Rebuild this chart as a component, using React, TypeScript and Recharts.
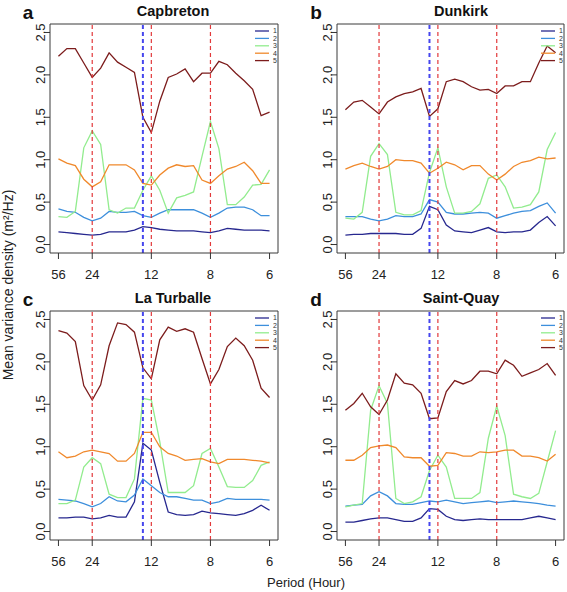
import React from "react";
import { LineChart, Line, XAxis, YAxis, ReferenceLine } from "recharts";

// harmonic index k: period = 168 / k hours
const harmonic = [3, 4, 5, 6, 7, 8, 9, 10, 11, 12, 13, 14, 15, 16, 17, 18, 19, 20, 21, 22, 23, 24, 25, 26, 27, 28];
const periodTicks = [3, 7, 14, 21, 28];
const periodLabels = ["56", "24", "12", "8", "6"];
const tidalLines = [7, 14, 21];
const m2Line = 13;
const yTicks = [0, 0.5, 1, 1.5, 2, 2.5];
const clusterNames = ["1", "2", "3", "4", "5"];
const clusterColors = ["#27288f", "#3d8fdc", "#92ec8e", "#f0892c", "#7c1c1c"];

const capbreton1 = [0.15, 0.14, 0.13, 0.12, 0.11, 0.12, 0.15, 0.15, 0.15, 0.17, 0.21, 0.2, 0.18, 0.17, 0.16, 0.16, 0.16, 0.15, 0.14, 0.16, 0.19, 0.18, 0.17, 0.17, 0.17, 0.16];
const capbreton2 = [0.42, 0.39, 0.38, 0.32, 0.28, 0.31, 0.39, 0.38, 0.38, 0.39, 0.34, 0.32, 0.37, 0.41, 0.41, 0.41, 0.41, 0.37, 0.32, 0.37, 0.43, 0.44, 0.44, 0.41, 0.34, 0.34];
const capbreton3 = [0.33, 0.32, 0.39, 1.14, 1.34, 1.18, 0.41, 0.37, 0.43, 0.43, 0.64, 0.81, 0.64, 0.37, 0.55, 0.58, 0.62, 1.04, 1.45, 1.13, 0.47, 0.47, 0.56, 0.7, 0.71, 0.88];
const capbreton4 = [1.01, 0.96, 0.93, 0.77, 0.68, 0.74, 0.94, 0.94, 0.94, 0.88, 0.72, 0.7, 0.82, 0.9, 0.94, 0.92, 0.93, 0.76, 0.72, 0.81, 0.89, 0.92, 0.97, 0.87, 0.72, 0.72];
const capbreton5 = [2.22, 2.31, 2.31, 2.14, 1.97, 2.08, 2.26, 2.15, 2.09, 2.03, 1.5, 1.32, 1.69, 1.97, 2.01, 2.07, 1.92, 2.02, 2.02, 2.16, 2.12, 2.02, 1.93, 1.83, 1.52, 1.56];

const dunkirk1 = [0.11, 0.12, 0.12, 0.13, 0.13, 0.13, 0.13, 0.12, 0.12, 0.19, 0.45, 0.41, 0.23, 0.16, 0.15, 0.14, 0.17, 0.2, 0.15, 0.14, 0.15, 0.15, 0.17, 0.26, 0.33, 0.22];
const dunkirk2 = [0.33, 0.33, 0.33, 0.3, 0.28, 0.3, 0.34, 0.33, 0.33, 0.36, 0.53, 0.5, 0.38, 0.36, 0.36, 0.37, 0.38, 0.37, 0.31, 0.34, 0.37, 0.39, 0.4, 0.45, 0.49, 0.37];
const dunkirk3 = [0.31, 0.3, 0.38, 1.04, 1.19, 1.06, 0.38, 0.35, 0.35, 0.4, 0.85, 1.14, 0.68, 0.37, 0.37, 0.39, 0.48, 0.78, 0.82, 0.68, 0.43, 0.44, 0.47, 0.62, 1.12, 1.32];
const dunkirk4 = [0.89, 0.93, 0.96, 0.92, 0.89, 0.92, 1.0, 0.99, 0.99, 0.96, 0.84, 0.9, 0.97, 0.94, 0.88, 0.93, 0.93, 0.83, 0.76, 0.83, 0.92, 0.97, 0.99, 1.03, 1.01, 1.02];
const dunkirk5 = [1.59, 1.68, 1.7, 1.62, 1.54, 1.68, 1.74, 1.78, 1.8, 1.84, 1.51, 1.6, 1.92, 1.95, 1.92, 1.86, 1.82, 1.83, 1.78, 1.87, 1.87, 1.92, 1.92, 2.14, 2.34, 2.26];

const turballe1 = [0.16, 0.16, 0.17, 0.17, 0.15, 0.16, 0.19, 0.17, 0.17, 0.35, 1.04, 0.96, 0.58, 0.23, 0.2, 0.19, 0.2, 0.24, 0.22, 0.21, 0.2, 0.19, 0.21, 0.25, 0.31, 0.25];
const turballe2 = [0.38, 0.37, 0.36, 0.33, 0.29, 0.33, 0.41, 0.36, 0.35, 0.43, 0.62, 0.54, 0.46, 0.41, 0.41, 0.39, 0.37, 0.37, 0.33, 0.35, 0.39, 0.38, 0.38, 0.38, 0.38, 0.37];
const turballe3 = [0.33, 0.33, 0.37, 0.76, 0.87, 0.8, 0.44, 0.4, 0.4, 0.62, 1.57, 1.55, 1.06, 0.46, 0.46, 0.46, 0.54, 0.92, 0.98, 0.76, 0.53, 0.52, 0.52, 0.6, 0.78, 0.82];
const turballe4 = [0.94, 0.87, 0.89, 0.94, 0.96, 0.94, 0.92, 0.83, 0.83, 0.92, 1.17, 1.17, 1.0, 0.92, 0.89, 0.84, 0.85, 0.86, 0.82, 0.8, 0.85, 0.85, 0.85, 0.84, 0.83, 0.81];
const turballe5 = [2.37, 2.34, 2.24, 1.72, 1.55, 1.73, 2.19, 2.46, 2.44, 2.35, 1.93, 1.8, 2.26, 2.41, 2.36, 2.39, 2.35, 2.04, 1.74, 1.91, 2.18, 2.28, 2.19, 2.02, 1.69, 1.58];

const saintQuay1 = [0.11, 0.11, 0.13, 0.15, 0.16, 0.16, 0.14, 0.12, 0.12, 0.16, 0.27, 0.26, 0.18, 0.14, 0.13, 0.14, 0.15, 0.14, 0.14, 0.14, 0.14, 0.14, 0.16, 0.18, 0.16, 0.14];
const saintQuay2 = [0.3, 0.31, 0.32, 0.42, 0.47, 0.42, 0.33, 0.32, 0.32, 0.34, 0.36, 0.35, 0.37, 0.35, 0.33, 0.34, 0.35, 0.36, 0.34, 0.35, 0.36, 0.35, 0.34, 0.33, 0.31, 0.3];
const saintQuay3 = [0.29, 0.31, 0.33, 1.43, 1.72, 1.51, 0.39, 0.33, 0.35, 0.41, 0.72, 0.9, 0.76, 0.39, 0.39, 0.39, 0.46, 1.1, 1.48, 1.13, 0.44, 0.41, 0.39, 0.45, 0.82, 1.19];
const saintQuay4 = [0.84, 0.84, 0.9, 0.99, 1.01, 1.02, 0.99, 0.88, 0.87, 0.87, 0.77, 0.78, 0.93, 0.92, 0.89, 0.89, 0.94, 0.93, 0.94, 0.96, 0.96, 0.89, 0.89, 0.87, 0.83, 0.91];
const saintQuay5 = [1.43, 1.51, 1.63, 1.47, 1.38, 1.55, 1.86, 1.75, 1.73, 1.63, 1.33, 1.34, 1.65, 1.78, 1.74, 1.78, 1.89, 1.89, 1.86, 2.02, 1.96, 1.83, 1.87, 1.91, 1.98, 1.84];

const FONT = "'Liberation Sans', Arial, Helvetica, sans-serif";
const AXIS_W = 50;
const AXIS_H = 40;
const X_DOMAIN = [2, 29];
const Y_DOMAIN = [-0.1, 2.6];
const BOX = "#3a3a3a";

interface PanelProps {
  letter: string;
  title: string;
  series: number[][];
  boxLeft: number;
  boxTop: number;
  boxWidth: number;
  boxHeight: number;
  titleX: number;
  letterX: number;
}

const YTick = ({ y, payload }: any) => (
  <text
    x={40}
    y={y}
    dy="0.35em"
    textAnchor="middle"
    transform={`rotate(-90, 40, ${y})`}
    fontSize={13}
    fill="#222"
    fontFamily={FONT}
  >
    {payload.value.toFixed(1)}
  </text>
);

function Panel({ letter, title, series, boxLeft, boxTop, boxWidth, boxHeight, titleX, letterX }: PanelProps) {
  const rows = harmonic.map((k, i) => {
    const row: Record<string, number> = { k };
    series.forEach((s, j) => {
      row["s" + j] = s[i];
    });
    return row;
  });
  const legendX = boxLeft + boxWidth - 23;
  const legendY = boxTop + 7;
  return (
    <>
      <div style={{ position: "absolute", left: boxLeft - AXIS_W, top: boxTop - 24 }}>
        <LineChart
          width={AXIS_W + boxWidth + 4}
          height={24 + boxHeight + AXIS_H}
          data={rows}
          margin={{ top: 24, right: 4, left: 0, bottom: 0 }}
        >
          <XAxis
            type="number"
            dataKey="k"
            domain={X_DOMAIN}
            ticks={periodTicks}
            tickFormatter={(v: number) => periodLabels[periodTicks.indexOf(v)]}
            axisLine={false}
            tickSize={6}
            tickMargin={11}
            height={AXIS_H}
            tickLine={{ stroke: "#333" }}
            tick={{ fontSize: 13, fill: "#222", fontFamily: FONT }}
            allowDataOverflow
          />
          <YAxis
            type="number"
            domain={Y_DOMAIN}
            ticks={yTicks}
            axisLine={false}
            tickSize={6}
            width={AXIS_W}
            tickLine={{ stroke: "#333" }}
            tick={<YTick />}
            allowDataOverflow
          />
          {series.map((_, j) => (
            <Line
              key={j}
              type="linear"
              dataKey={"s" + j}
              stroke={clusterColors[j]}
              strokeWidth={1.3}
              dot={false}
              isAnimationActive={false}
            />
          ))}
          {tidalLines.map((x) => (
            <ReferenceLine key={x} x={x} stroke="#e2393b" strokeWidth={1.2} strokeDasharray="4 3" />
          ))}
          <ReferenceLine x={m2Line} stroke="#4646ee" strokeWidth={2} strokeDasharray="4 3" />
          <ReferenceLine x={X_DOMAIN[0]} stroke={BOX} strokeWidth={1} ifOverflow="visible" />
          <ReferenceLine x={X_DOMAIN[1]} stroke={BOX} strokeWidth={1} ifOverflow="visible" />
          <ReferenceLine y={Y_DOMAIN[0]} stroke={BOX} strokeWidth={1} ifOverflow="visible" />
          <ReferenceLine y={Y_DOMAIN[1]} stroke={BOX} strokeWidth={1} ifOverflow="visible" />
        </LineChart>
      </div>
      <svg
        width={567}
        height={592}
        style={{ position: "absolute", left: 0, top: 0, pointerEvents: "none" }}
        fontFamily={FONT}
      >
        <text x={letterX} y={boxTop - 12} dy="0.35em" textAnchor="middle" fontSize={19} fontWeight="bold" fill="#111">
          {letter}
        </text>
        <text x={titleX} y={boxTop - 13} dy="0.35em" textAnchor="middle" fontSize={14.5} fontWeight="bold" fill="#111">
          {title}
        </text>
        {clusterNames.map((name, j) => (
          <g key={name}>
            <line
              x1={legendX}
              x2={legendX + 14}
              y1={legendY + j * 7.4}
              y2={legendY + j * 7.4}
              stroke={clusterColors[j]}
              strokeWidth={1.3}
            />
            <text x={legendX + 18} y={legendY + j * 7.4} dy="0.35em" fontSize={7} fill="#333">
              {name}
            </text>
          </g>
        ))}
      </svg>
    </>
  );
}

export default function App() {
  return (
    <div
      style={{
        position: "absolute",
        left: 0,
        top: 0,
        width: 567,
        height: 592,
        background: "#fff",
        fontFamily: FONT,
      }}
    >
      <Panel
        letter="a"
        title="Capbreton"
        series={[capbreton1, capbreton2, capbreton3, capbreton4, capbreton5]}
        boxLeft={50}
        boxTop={24}
        boxWidth={228}
        boxHeight={229}
        titleX={173}
        letterX={28}
      />
      <Panel
        letter="b"
        title="Dunkirk"
        series={[dunkirk1, dunkirk2, dunkirk3, dunkirk4, dunkirk5]}
        boxLeft={337}
        boxTop={24}
        boxWidth={227}
        boxHeight={229}
        titleX={461}
        letterX={316}
      />
      <Panel
        letter="c"
        title="La Turballe"
        series={[turballe1, turballe2, turballe3, turballe4, turballe5]}
        boxLeft={50}
        boxTop={311}
        boxWidth={228}
        boxHeight={229}
        titleX={173}
        letterX={28}
      />
      <Panel
        letter="d"
        title="Saint-Quay"
        series={[saintQuay1, saintQuay2, saintQuay3, saintQuay4, saintQuay5]}
        boxLeft={337}
        boxTop={311}
        boxWidth={227}
        boxHeight={229}
        titleX={461}
        letterX={316}
      />
      <svg width={567} height={592} style={{ position: "absolute", left: 0, top: 0, pointerEvents: "none" }}>
        <text
          x={8}
          y={285}
          dy="0.35em"
          textAnchor="middle"
          transform="rotate(-90, 8, 285)"
          fontSize={14}
          fill="#222"
          fontFamily={FONT}
        >
          Mean variance density (m²/Hz)
        </text>
        <text x={306} y={582} dy="0.35em" textAnchor="middle" fontSize={13} fill="#222" fontFamily={FONT}>
          Period (Hour)
        </text>
      </svg>
    </div>
  );
}
